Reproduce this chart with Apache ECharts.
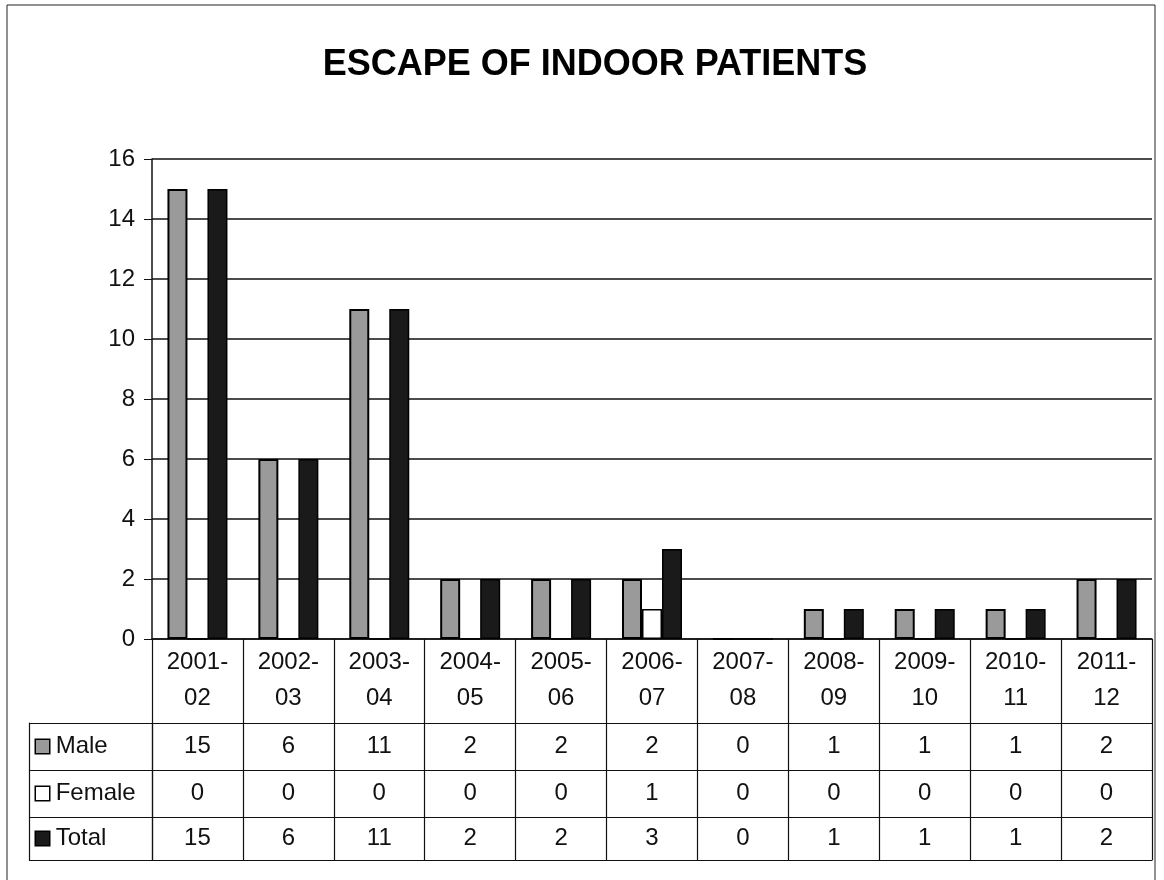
<!DOCTYPE html>
<html>
<head>
<meta charset="utf-8">
<title>Escape of Indoor Patients</title>
<script src="https://cdn.jsdelivr.net/npm/echarts@6.0.0/dist/echarts.min.js"></script>
<style>
  html, body { margin: 0; padding: 0; background: #fff; }
  #chart { width: 1164px; height: 880px; }
</style>
</head>
<body>
<div id="chart"></div>
<script>
const categories = ["2001-02", "2002-03", "2003-04", "2004-05", "2005-06", "2006-07",
  "2007-08", "2008-09", "2009-10", "2010-11", "2011-12"];
const male = [15, 6, 11, 2, 2, 2, 0, 1, 1, 1, 2];
const female = [0, 0, 0, 0, 0, 1, 0, 0, 0, 0, 0];
const total = [15, 6, 11, 2, 2, 3, 0, 1, 1, 1, 2];
const yTicks = [0, 2, 4, 6, 8, 10, 12, 14, 16];

const FONT = "Liberation Sans, Arial, sans-serif";
const INK = "#111";
const colors = { Male: "#9a9a9a", Female: "#ffffff", Total: "#1a1a1a" };

// table rows under the plot (Excel style data table)
const rows = [
  { name: "Male", values: male, top: 723, height: 47 },
  { name: "Female", values: female, top: 770, height: 47 },
  { name: "Total", values: total, top: 817, height: 43 },
];

const chart = echarts.init(document.getElementById("chart"));

const grids = [{ left: 152, right: 12, top: 159, height: 480, outerBoundsMode: "none" }];
const xAxes = [{
  type: "category",
  gridIndex: 0,
  data: categories,
  axisLine: { lineStyle: { color: INK, width: 1.5 } },
  axisTick: { show: true, length: 84, alignWithLabel: false, lineStyle: { color: INK, width: 1.2 } },
  axisLabel: {
    margin: 5,
    fontFamily: FONT,
    fontSize: 24,
    lineHeight: 36,
    color: INK,
    formatter: (v) => v.replace("-", "-\n"),
  },
  splitLine: { show: false },
}];
const yAxes = [{
  type: "value",
  gridIndex: 0,
  min: yTicks[0],
  max: yTicks[yTicks.length - 1],
  interval: yTicks[1] - yTicks[0],
  axisLine: { show: true, lineStyle: { color: INK, width: 1.5 } },
  axisTick: { show: true, length: 8, lineStyle: { color: INK } },
  axisLabel: { margin: 17, fontFamily: FONT, fontSize: 24, color: INK },
  splitLine: { show: true, lineStyle: { color: INK, width: 1.5 } },
}];

rows.forEach((row, i) => {
  const g = i + 1;
  grids.push({ left: 152, right: 12, top: row.top, height: row.height, outerBoundsMode: "none" });
  xAxes.push({
    type: "category",
    gridIndex: g,
    position: "bottom",
    data: row.values.map(String),
    axisLine: { lineStyle: { color: INK, width: 1.2 } },
    axisTick: { show: true, inside: true, length: row.height, alignWithLabel: false, lineStyle: { color: INK, width: 1.2 } },
    axisLabel: {
      inside: true,
      margin: row.height / 2,
      verticalAlign: "middle",
      fontFamily: FONT,
      fontSize: 24,
      color: INK,
    },
  });
  yAxes.push({
    type: "category",
    gridIndex: g,
    position: "left",
    data: [row.name],
    axisLine: { show: true, lineStyle: { color: INK, width: 1.2 } },
    axisTick: { show: true, length: 123, alignWithLabel: false, lineStyle: { color: INK, width: 1.2 } },
    axisLabel: {
      margin: 116,
      align: "left",
      fontFamily: FONT,
      fontSize: 24,
      color: INK,
      formatter: (v) => "{k|} " + v,
      rich: {
        k: {
          width: 13,
          height: 13,
          backgroundColor: colors[row.name],
          borderColor: "#000",
          borderWidth: 1.5,
        },
      },
    },
  });
  // left edge of the row header column
  yAxes.push({
    type: "category",
    gridIndex: g,
    position: "left",
    data: [""],
    offset: 123,
    axisLine: { show: true, lineStyle: { color: INK, width: 1.2 } },
    axisTick: { show: false },
    axisLabel: { show: false },
  });
});

// top border of the first table row
xAxes.push({
  type: "category",
  gridIndex: 1,
  position: "top",
  data: categories,
  axisLine: { lineStyle: { color: INK, width: 1.2 } },
  axisTick: { show: false },
  axisLabel: { show: false },
});

const option = {
  backgroundColor: "#fff",
  animation: false,
  title: {
    text: "ESCAPE OF INDOOR PATIENTS",
    left: 590,
    textAlign: "center",
    top: 42,
    textStyle: { fontFamily: FONT, fontSize: 36, fontWeight: "bold", color: "#000" },
  },
  graphic: [{
    type: "rect",
    shape: { x: 7, y: 5, width: 1148, height: 900 },
    style: { fill: "none", stroke: "#222", lineWidth: 1 },
    silent: true,
  }],
  grid: grids,
  xAxis: xAxes,
  yAxis: yAxes,
  series: [
    {
      name: "Male",
      type: "bar",
      xAxisIndex: 0,
      yAxisIndex: 0,
      data: male,
      barWidth: 20,
      barGap: "0%",
      itemStyle: { color: colors.Male, borderColor: "#000", borderWidth: 2 },
    },
    {
      name: "Female",
      type: "bar",
      xAxisIndex: 0,
      yAxisIndex: 0,
      data: female,
      barWidth: 20,
      barGap: "0%",
      itemStyle: { color: colors.Female, borderColor: "#000", borderWidth: 1.5 },
    },
    {
      name: "Total",
      type: "bar",
      xAxisIndex: 0,
      yAxisIndex: 0,
      data: total,
      barWidth: 20,
      barGap: "0%",
      itemStyle: { color: colors.Total, borderColor: "#000", borderWidth: 1.5 },
    },
  ],
};

chart.setOption(option);
</script>
</body>
</html>
